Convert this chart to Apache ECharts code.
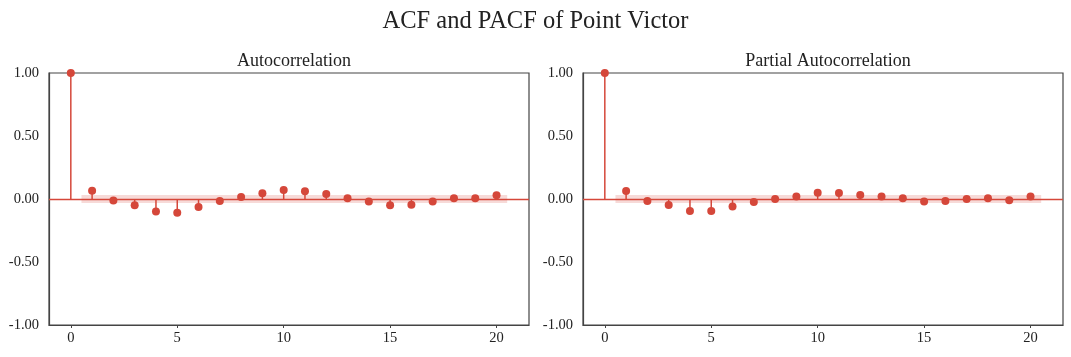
<!DOCTYPE html>
<html>
<head>
<meta charset="utf-8">
<script src="https://cdn.jsdelivr.net/npm/echarts@6/dist/echarts.min.js"></script>
<style>html,body{margin:0;padding:0;background:#fff}#c{width:1071px;height:357px}</style>
</head>
<body>
<div id="c"></div>
<script>
const lags = [0,1,2,3,4,5,6,7,8,9,10,11,12,13,14,15,16,17,18,19,20];
const acfValues = [1.0,0.065,-0.012,-0.05,-0.10,-0.11,-0.063,-0.015,0.015,0.045,0.072,0.062,0.04,0.005,-0.02,-0.05,-0.045,-0.02,0.005,0.005,0.03];
const pacfValues = [1.0,0.064,-0.016,-0.048,-0.095,-0.095,-0.059,-0.024,0.0,0.02,0.049,0.048,0.032,0.02,0.005,-0.02,-0.016,0.0,0.005,-0.01,0.02];
const confHalfWidth = 0.032;
const xTickValues = [0,5,10,15,20];
const yTickValues = [-1,-0.5,0,0.5,1];
const mainTitle = 'ACF and PACF of Point Victor';
const subTitles = ['Autocorrelation','Partial Autocorrelation'];

const RED = '#d5473a';
const FONT = "'Liberation Serif','DejaVu Serif',serif";
const TXT = '#222';

const grids = [
  {left: 49, top: 73, width: 480, height: 252, show: true, borderColor: '#444', borderWidth: 1.2, backgroundColor: 'transparent'},
  {left: 583, top: 73, width: 480, height: 252, show: true, borderColor: '#444', borderWidth: 1.2, backgroundColor: 'transparent'}
];

function xAxis(i){
  return {
    type: 'value', gridIndex: i, min: -1.025, max: 21.525,
    splitLine: {show: false},
    axisLine: {show: true, onZero: false, lineStyle: {color: '#444', width: 1.2}},
    axisTick: {show: true, length: 3, lineStyle: {color: '#444'}, customValues: xTickValues},
    axisLabel: {fontFamily: FONT, fontSize: 14.5, color: TXT, margin: 6, customValues: xTickValues}
  };
}
function yAxis(i){
  return {
    type: 'value', gridIndex: i, min: -1, max: 1,
    splitLine: {show: false},
    axisLine: {show: true, onZero: false, lineStyle: {color: '#444', width: 1.2}},
    axisTick: {show: false},
    axisLabel: {fontFamily: FONT, fontSize: 14.5, color: TXT, margin: 10, customValues: yTickValues,
      formatter: v => v.toFixed(2)}
  };
}

function seriesFor(vals, i){
  const pts = lags.map((l, k) => [l, vals[k]]);
  return [
    {
      type: 'custom', xAxisIndex: i, yAxisIndex: i, silent: true, z: 1,
      data: [[0.5, 20.5, confHalfWidth]],
      renderItem: (params, api) => {
        const a = api.coord([api.value(0), api.value(2)]);
        const b = api.coord([api.value(1), -api.value(2)]);
        return {type: 'rect', shape: {x: a[0], y: a[1], width: b[0]-a[0], height: b[1]-a[1]},
          style: {fill: 'rgba(213,71,58,0.2)'}};
      }
    },
    {
      type: 'custom', xAxisIndex: i, yAxisIndex: i, silent: true, z: 2,
      data: pts,
      renderItem: (params, api) => {
        const p0 = api.coord([api.value(0), 0]);
        const p1 = api.coord([api.value(0), api.value(1)]);
        return {type: 'line', shape: {x1: p0[0], y1: p0[1], x2: p1[0], y2: p1[1]},
          style: {stroke: RED, lineWidth: 1.5}};
      }
    },
    {
      type: 'scatter', xAxisIndex: i, yAxisIndex: i, z: 3,
      data: pts, symbol: 'circle', symbolSize: 8,
      itemStyle: {color: RED, opacity: 1},
      markLine: {silent: true, symbol: 'none', label: {show: false},
        lineStyle: {color: RED, width: 1.3, type: 'solid'},
        data: [{yAxis: 0}]}
    }
  ];
}

const chart = echarts.init(document.getElementById('c'), null, {renderer: 'canvas'});
chart.setOption({
  animation: false,
  backgroundColor: '#fff',
  title: [
    {text: mainTitle, left: 'center', top: 4, textStyle: {fontFamily: FONT, fontSize: 24.5, fontWeight: 'normal', color: TXT}},
    {text: subTitles[0], left: 289, top: 47, textAlign: 'center', textStyle: {fontFamily: FONT, fontSize: 18, fontWeight: 'normal', color: TXT}},
    {text: subTitles[1], left: 823, top: 47, textAlign: 'center', textStyle: {fontFamily: FONT, fontSize: 18, fontWeight: 'normal', color: TXT}}
  ],
  grid: grids,
  xAxis: [xAxis(0), xAxis(1)],
  yAxis: [yAxis(0), yAxis(1)],
  series: [...seriesFor(acfValues, 0), ...seriesFor(pacfValues, 1)]
});
</script>
</body>
</html>
